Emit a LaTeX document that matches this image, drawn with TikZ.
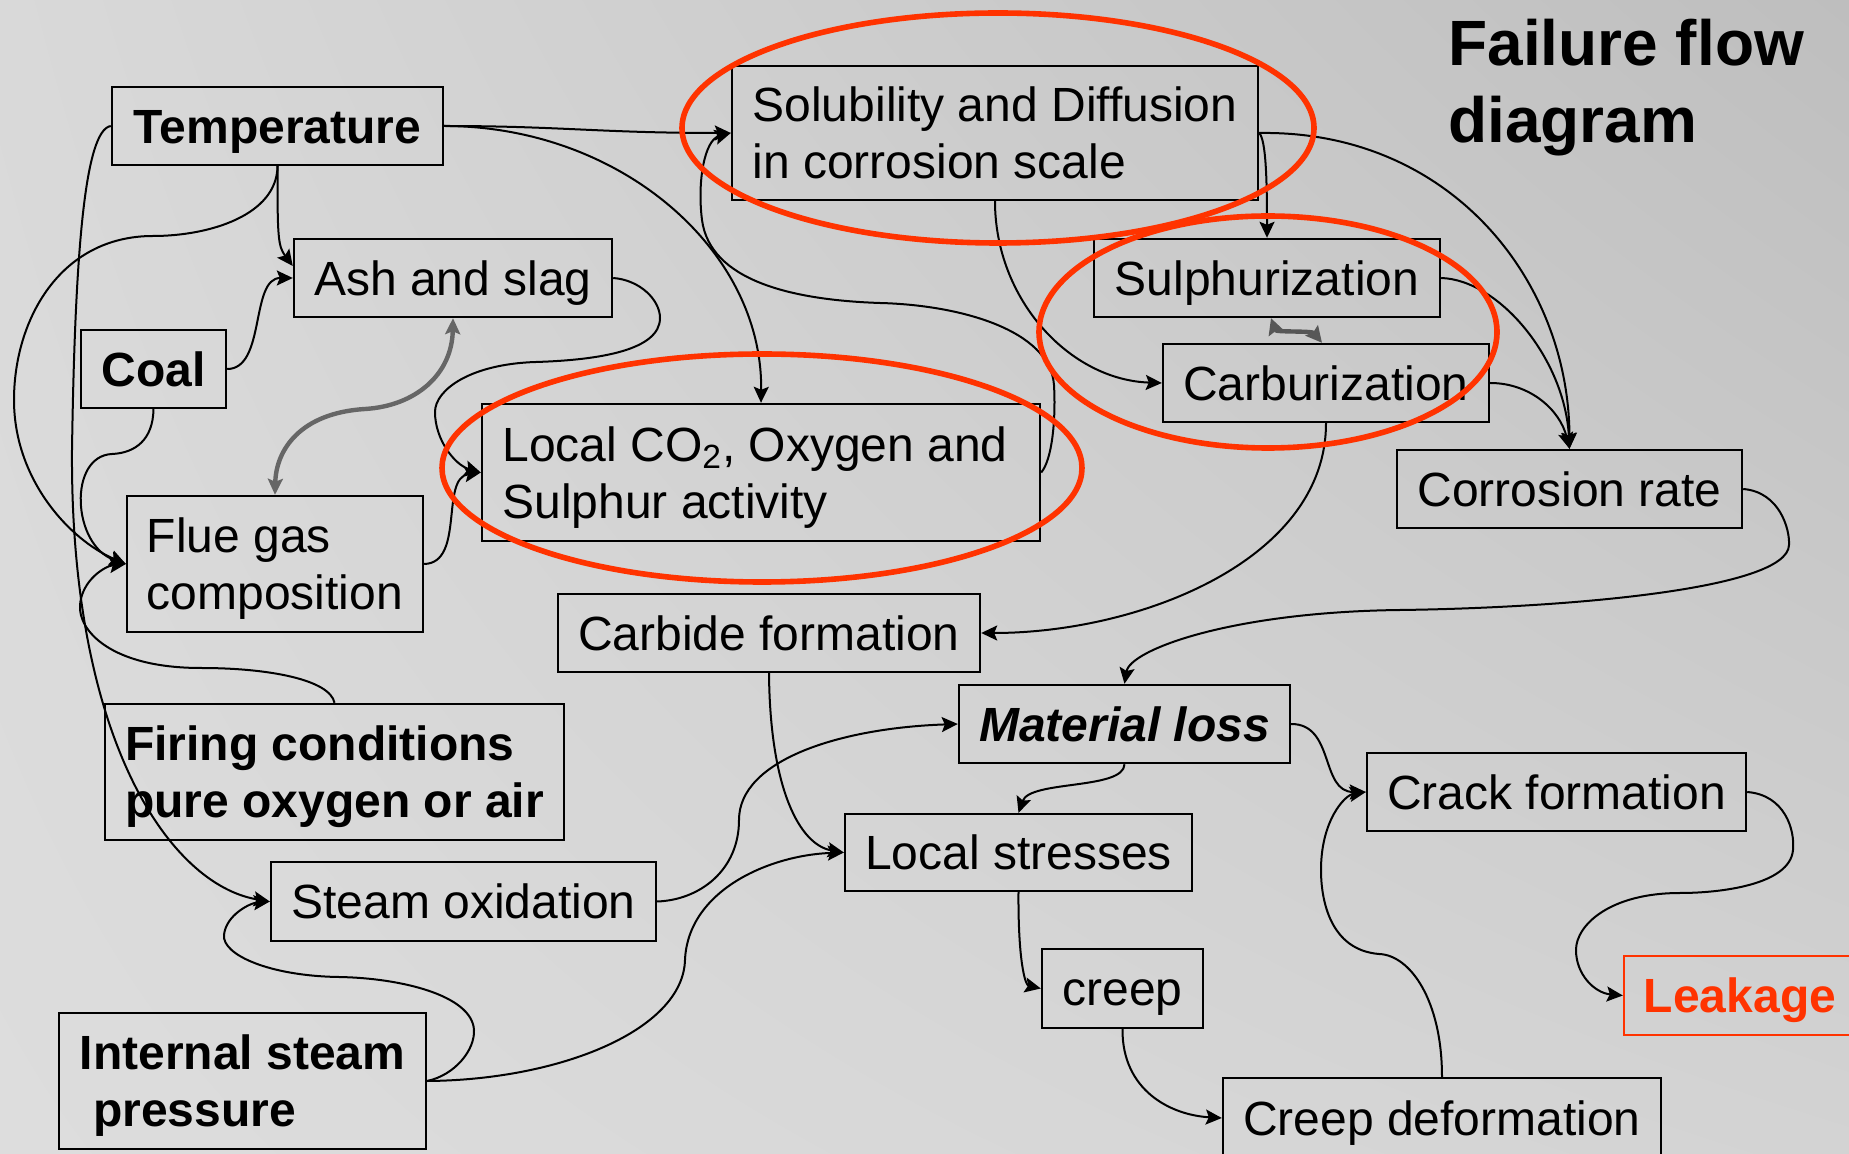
\documentclass[tikz,border=0pt]{standalone}
\usepackage{fontspec}
\setmainfont{Liberation Sans}
\usetikzlibrary{arrows.meta,shadings}
\definecolor{redo}{HTML}{FF3300}
\definecolor{darkg}{HTML}{666666}
\definecolor{bgA}{HTML}{D9D9D9}
\definecolor{bgB}{HTML}{BEBEBE}
\definecolor{bgC}{HTML}{DDDDDD}
\definecolor{bgD}{HTML}{D3D3D3}
\begin{document}
\begin{tikzpicture}[x=0.5pt,y=-0.5pt,
  box/.style={draw, line width=1.2pt, inner sep=0pt, align=center, text depth=0pt, font=\fontsize{24}{28.5}\selectfont},
  one/.style={text height=17.2pt, text depth=0pt},
  bbox/.style={box, font=\fontsize{24}{28.5}\selectfont\bfseries},
  lbox/.style={box, align=left},
  wh/.style 2 args={minimum width=#1pt, minimum height=#2pt},
  conn/.style={line width=1pt, -{Stealth[length=8pt,width=7.5pt,inset=1.5pt]}},
  dbl/.style={line width=2.2pt, draw=darkg, {Stealth[length=8pt,width=7.5pt,inset=1.5pt]}-{Stealth[length=8pt,width=7.5pt,inset=1.5pt]}},
  dbltwo/.style={line width=2.2pt, draw=darkg!85!black, {Stealth[length=8pt,width=8pt,inset=1.2pt]}-{Stealth[length=8pt,width=8pt,inset=1.2pt]}},
  ring/.style={draw=redo, line width=2.8pt}]
\clip (0,0) rectangle (1849,1154);
\shade[upper left=bgA, upper right=bgB, lower left=bgC, lower right=bgD] (0,0) rectangle (1849,1154);

% title
\node[anchor=north west, inner sep=0pt, align=left, font=\fontsize{32}{38.5}\selectfont\bfseries] (title) at (1448,19) {Failure flow\\diagram};

% nodes
\node[bbox, one, wh={165.5}{39}] (temp) at (277.5,126) {Temperature};
\node[lbox, wh={263}{67}] (solub) at (995,133) {Solubility and Diffusion\\in corrosion scale};
\node[box, one, wh={159}{39}] (ash) at (453,278) {Ash and slag};
\node[bbox, one, wh={72.5}{39}] (coal) at (153.5,369) {Coal};
\node[box, one, wh={173}{39}] (sulph) at (1267,278) {Sulphurization};
\node[box, one, wh={163}{39}] (carb) at (1326,383) {Carburization};
\node[lbox, wh={279}{68.5}] (local) at (761,472.5) {Local CO\textsubscript{2}, Oxygen and\hspace*{6pt}\\Sulphur activity};
\node[box, one, wh={172.5}{39}] (corr) at (1569.5,489) {Corrosion rate};
\node[lbox, wh={148}{68}] (flue) at (275,564) {Flue gas\\composition};
\node[box, one, wh={211}{39}] (carbide) at (769,633) {Carbide formation};
\node[bbox, one, wh={165.5}{39}, font=\fontsize{24}{28.5}\selectfont\bfseries\itshape] (matloss) at (1124.5,724) {Material loss};
\node[bbox, align=left, wh={229.5}{68}] (firing) at (334.5,772) {Firing conditions\\pure oxygen or air};
\node[box, one, wh={189.5}{39}] (crack) at (1556.5,792) {Crack formation};
\node[box, one, wh={173.5}{38.5}] (stress) at (1018.5,852.5) {Local stresses};
\node[box, one, wh={192.5}{39.5}] (steam) at (463.5,901.5) {Steam oxidation};
\node[box, one, wh={80.5}{39.5}] (creep) at (1122.5,988.5) {creep};
\node[bbox, one, draw=redo, text=redo, wh={116}{39.5}] (leak) at (1740,995.5) {Leakage};
\node[box, one, wh={219}{40}] (creepdef) at (1442,1118) {Creep deformation};
\node[bbox, align=left, wh={183.5}{68}] (intsteam) at (242.5,1081) {Internal steam\\\hspace*{0.278em}pressure};

% connectors
\draw[conn] (temp.east) .. controls (560,126) and (600,133) .. (solub.west);
\draw[conn] (temp.east) .. controls (620,126) and (763,250) .. (local.north);
\draw[conn] (temp.south) .. controls +(0,70) and +(-15,-20) .. ([yshift=6pt]ash.west);
\draw[conn] (temp.south) .. controls (277,215) and (210,236) .. (153,236) .. controls (60,236) and (14,320) .. (14,400) .. controls (14,480) and (70,540) .. (flue.west);
\draw[conn] (temp.west) .. controls (85,130) and (75,250) .. (72,450) .. controls (70,740) and (170,885) .. (steam.west);
\draw[conn] (coal.east) .. controls (266,369) and (250,278) .. (ash.west);
\draw[conn] (coal.south) .. controls (153,440) and (135,453) .. (112,454) .. controls (68,456) and (72,545) .. (flue.west);
\draw[conn] (firing.north) .. controls (330,680) and (270,668) .. (201,668) .. controls (110,668) and (78,630) .. (80,605) .. controls (82,580) and (105,566) .. (flue.west);
\draw[conn] (ash.east) .. controls (640,280) and (660,300) .. (660,318) .. controls (660,350) and (600,360) .. (536,362) .. controls (470,364) and (435,390) .. (435,412) .. controls (435,440) and (455,465) .. (local.west);
\draw[conn] (flue.east) .. controls (465,563) and (440,478) .. (local.west);
\draw[dbl] (ash.south) .. controls (452,375) and (415,406) .. (365,409) .. controls (300,413) and (276,450) .. (flue.north);
\draw[conn] (local.east) .. controls (1052,460) and (1056,420) .. (1054,385) .. controls (1050,330) and (960,305) .. (880,303) .. controls (790,300) and (710,280) .. (702,220) .. controls (697,180) and (705,140) .. (solub.west);
\draw[conn] (solub.east) .. controls (1266,140) and (1267,180) .. (sulph.north);
\draw[conn] (solub.east) .. controls (1450,130) and (1569,280) .. (corr.north);
\draw[conn] (sulph.east) .. controls (1500,280) and (1565,360) .. (corr.north);
\draw[conn] (carb.east) .. controls (1530,383) and (1560,410) .. (corr.north);
\draw[conn] (solub.south) .. controls (995,300) and (1070,380) .. (carb.west);
\draw[dbltwo] ([xshift=2pt]sulph.south) .. controls +(5,14) and +(-10,-12) .. ([xshift=-2pt]carb.north);
\draw[conn] (carb.south) .. controls (1326,560) and (1140,633) .. (carbide.east);
\draw[conn] (corr.east) .. controls (1780,492) and (1790,530) .. (1789,545) .. controls (1788,590) and (1560,608) .. (1400,610) .. controls (1230,612) and (1130,650) .. (matloss.north);
\draw[conn] (carbide.south) .. controls (770,790) and (800,845) .. (stress.west);
\draw[conn] (steam.east) .. controls (700,900) and (739,870) .. (739,820) .. controls (739,760) and (840,728) .. (matloss.west);
\draw[conn] (matloss.south) .. controls (1124,790) and (1030,780) .. (stress.north);
\draw[conn] (matloss.east) .. controls (1335,724) and (1320,792) .. (crack.west);
\draw[conn] (creepdef.north) .. controls (1442,1000) and (1410,955) .. (1379,954) .. controls (1330,950) and (1321,900) .. (1321,870) .. controls (1321,820) and (1345,795) .. (crack.west);
\draw[conn] (crack.east) .. controls (1785,795) and (1795,830) .. (1793,850) .. controls (1790,885) and (1720,893) .. (1680,893) .. controls (1610,893) and (1576,925) .. (1576,950) .. controls (1576,975) and (1595,993) .. (leak.west);
\draw[conn] (stress.south) .. controls (1018,960) and (1025,985) .. (creep.west);
\draw[conn] (creep.south) .. controls (1122,1090) and (1170,1115) .. (creepdef.west);
\draw[conn] (intsteam.east) .. controls (455,1075) and (475,1050) .. (474,1030) .. controls (472,995) and (400,978) .. (339,977) .. controls (270,976) and (222,955) .. (224,935) .. controls (226,915) and (250,903) .. (steam.west);
\draw[conn] (intsteam.east) .. controls (560,1080) and (683,1030) .. (685,960) .. controls (688,890) and (770,855) .. (stress.west);

% red rings
\draw[ring] (998,128) ellipse [x radius=158pt, y radius=57.5pt];
\draw[ring] (1268,332) ellipse [x radius=114.5pt, y radius=58pt];
\draw[ring] (762,468) ellipse [x radius=160pt, y radius=57pt];
\end{tikzpicture}
\end{document}
